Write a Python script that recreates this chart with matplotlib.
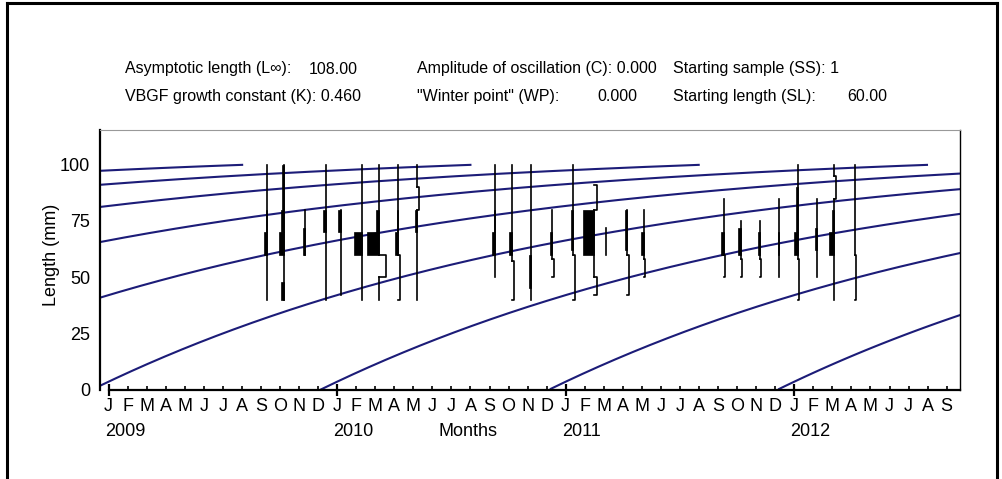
import numpy as np
import matplotlib
matplotlib.use('Agg')
import matplotlib.pyplot as plt
from matplotlib.patches import Rectangle
from matplotlib.lines import Line2D
from matplotlib.transforms import blended_transform_factory

plt.rcParams['font.family'] = ['Liberation Sans', 'DejaVu Sans']

# fit parameters printed in the header
LINF = 108.0
K = 0.46
C_OSC = 0.0
WP = 0.0
SS = 1
SL = 60.0

month_letters = list('JFMAMJJASOND')
years = [2009, 2010, 2011, 2012]
n_months = 45  # J 2009 .. S 2012

# samples: position in months from Jan 2009, length range covered
sample_month = [8.3, 9.2, 10.3, 11.4, 12.2, 13.3, 14.2, 15.2, 16.2,
                20.3, 21.2, 22.2, 23.3, 24.4, 25.5, 26.1, 27.2, 28.1,
                32.3, 33.2, 34.2, 35.2, 36.2, 37.2, 38.1, 39.2]
sample_min = [40, 40, 60, 40, 42, 40, 40, 40, 40,
              50, 40, 40, 50, 40, 42, 60, 42, 50,
              50, 50, 50, 50, 40, 50, 40, 40]
sample_max = [100, 100, 80, 100, 80, 100, 100, 100, 100,
              100, 100, 100, 80, 100, 91, 72, 80, 80,
              85, 75, 75, 85, 100, 85, 100, 100]
# restructured scores per sample: (from length, to length, score)
# score > 0 -> black peak, score < 0 -> trough
sample_scores = [
    [(60, 70, 3), (70, 80, 1)],
    [(60, 70, 4.5), (70, 80, 3), (80, 100, 1.5), (40, 48, 3)],
    [(60, 72, 2)],
    [(70, 80, 2.5)],
    [(70, 80, 3)],
    [(60, 70, 8)],
    [(60, 70, 12), (70, 80, 3), (50, 60, -7)],
    [(60, 70, 3), (70, 80, 1.5), (40, 60, -1.5)],
    [(70, 80, 2.5), (80, 90, -2)],
    [(60, 70, 3), (70, 80, 1)],
    [(60, 70, 3), (40, 57, -2)],
    [(45, 60, 2.5)],
    [(60, 70, 2.5), (50, 58, -1.5)],
    [(62, 80, 2), (40, 60, -1.5)],
    [(60, 80, 11), (80, 91, -2.5), (42, 50, -2.5)],
    [],
    [(62, 80, 2), (42, 60, -2)],
    [(60, 70, 2.5), (50, 58, -1.5)],
    [(60, 70, 2.5), (50, 60, -1)],
    [(60, 72, 2.5), (50, 58, -1)],
    [(60, 70, 2), (50, 58, -1)],
    [(60, 70, 1.5)],
    [(60, 70, 4), (70, 90, 2), (40, 58, -1)],
    [(62, 72, 2)],
    [(60, 70, 5), (70, 80, 2.5), (85, 95, -2)],
    [(40, 60, -1)],
]

W, H = 1003, 479
def fx(px):
    return px / W
def fy(py):
    return 1 - py / H

fig = plt.figure(figsize=(W / 100, H / 100), dpi=100)
ax = fig.add_axes([fx(100), fy(389.5), fx(960) - fx(100), fy(130) - fy(389.5)])

xmin, xmax = -0.45, 44.7
ax.set_xlim(xmin, xmax)
ax.set_ylim(0, 115.5)

# growth curves (VBGF through starting sample / starting length)
curve_color = '#1c1c78'
t_ss = sample_month[SS - 1] / 12.0
t0_ref = t_ss + np.log(1 - SL / LINF) / K
t = np.linspace(xmin / 12.0, xmax / 12.0, 600)
for k in range(-6, 6):
    L = LINF * (1 - np.exp(-K * (t - (t0_ref + k))))
    ok = (L >= 0) & (L <= 100)
    if ok.sum() > 1:
        ax.plot(t[ok] * 12, L[ok], color=curve_color, lw=1.5, zorder=2)

# samples
px_month = 19.0
for m, lo, hi, scores in zip(sample_month, sample_min, sample_max, sample_scores):
    troughs = sorted([s for s in scores if s[2] < 0])
    y = lo
    for a, b, s in troughs:
        if a > y:
            ax.plot([m, m], [y, a], color='black', lw=1.2, zorder=3)
        xs = m - s / px_month
        ax.plot([m, xs, xs, m], [a, a, b, b], color='black', lw=1.2, zorder=3)
        y = max(y, b)
    if hi > y:
        ax.plot([m, m], [y, hi], color='black', lw=1.2, zorder=3)
    for a, b, s in scores:
        if s > 0:
            w = s / px_month
            ax.add_patch(Rectangle((m - w, a), w, b - a, facecolor='black',
                                   edgecolor='black', lw=0.5, zorder=4))

# axes styling
for side in ['left', 'bottom']:
    ax.spines[side].set_linewidth(1.6)
ax.spines['bottom'].set_bounds(0, xmax)
ax.spines['top'].set_linewidth(0.8)
ax.spines['top'].set_color('#999999')
ax.spines['right'].set_linewidth(1.0)

ax.set_yticks([0, 25, 50, 75, 100])
ax.tick_params(axis='y', length=0, pad=7, labelsize=13)

ax.set_xticks(range(n_months))
ax.set_xticklabels([month_letters[i % 12] for i in range(n_months)])
ax.tick_params(axis='x', which='major', direction='in', length=3, width=1.2,
               labelsize=13, pad=6)
ax.set_xticks([12 * i for i in range(len(years))], minor=True)
ax.xaxis.remove_overlapping_locs = False
ax.tick_params(axis='x', which='minor', direction='inout', length=8, width=1.6)

trans = blended_transform_factory(ax.transData, fig.transFigure)
for i, yr in enumerate(years):
    ax.text(12 * i - 0.2, fy(432), str(yr), transform=trans, ha='left',
            va='center', fontsize=13)
fig.text(fx(468), fy(432), 'Months', ha='center', va='center', fontsize=13)
fig.text(fx(52), fy(255), 'Length (mm)', rotation=90, ha='center',
         va='center', fontsize=13)

# header with the fit parameters
hs = 11.5
fig.text(fx(125), fy(69), 'Asymptotic length (L\u221e):', va='center', fontsize=hs)
fig.text(fx(358), fy(69), f'{LINF:.2f}', ha='right', va='center', fontsize=hs)
fig.text(fx(417), fy(69), f'Amplitude of oscillation (C): {C_OSC:.3f}', va='center', fontsize=hs)
fig.text(fx(673), fy(69), f'Starting sample (SS): {SS}', va='center', fontsize=hs)
fig.text(fx(125), fy(97), f'VBGF growth constant (K): {K:.3f}', va='center', fontsize=hs)
fig.text(fx(417), fy(97), '"Winter point" (WP):', va='center', fontsize=hs)
fig.text(fx(637), fy(97), f'{WP:.3f}', ha='right', va='center', fontsize=hs)
fig.text(fx(673), fy(97), 'Starting length (SL):', va='center', fontsize=hs)
fig.text(fx(887), fy(97), f'{SL:.2f}', ha='right', va='center', fontsize=hs)

# outer frame
for xs, ys in [([fx(7), fx(7)], [fy(3), 0]),
               ([fx(7), fx(997)], [fy(3), fy(3)]),
               ([fx(997), fx(997)], [fy(3), 0])]:
    fig.add_artist(Line2D(xs, ys, color='black', lw=2.2))

fig.savefig('out.png', dpi=100)
